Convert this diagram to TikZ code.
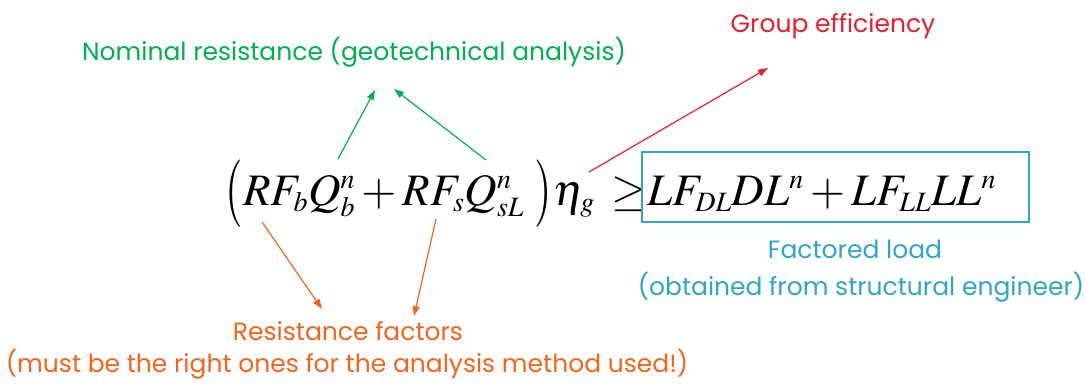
\documentclass[tikz,border=0pt]{standalone}
\usepackage{mathptmx}
\usepackage[no-math]{fontspec}
\setmainfont{Poppins}
\usetikzlibrary{arrows.meta}
\DeclareMathSizes{45}{45}{28}{20}
\definecolor{cgreen}{HTML}{00B050}
\definecolor{cred}{HTML}{E2202E}
\definecolor{corange}{HTML}{F0661E}
\definecolor{cblue}{HTML}{31A5C6}
\tikzset{
  lbl/.style={anchor=base, inner sep=0pt, font=\fontsize{25}{30}\selectfont},
  arr/.style={line width=1.2pt, -{Triangle[length=10pt,width=7pt]}},
  eq/.style={inner sep=0pt, anchor=base west, font=\fontsize{45}{54}\selectfont},
}
\newcommand{\bigparen}[1]{\raisebox{-5pt}{\scalebox{1}[1.5]{$#1$}}}
\begin{document}
\begin{tikzpicture}[x=1pt,y=-1pt]
\useasboundingbox (0,0) rectangle (1085,386);
% labels
\node[lbl, text=cgreen] (nom) at (354,60) {Nominal resistance (geotechnical analysis)};
\node[lbl, text=cred] (grp) at (833,32.5) {Group efficiency};
\node[lbl, text=corange] (res) at (348,340.7) {Resistance factors};
\node[lbl, text=corange] (must) at (347,372.7) {(must be the right ones for the analysis method used!)};
\node[lbl, text=cblue] (fac) at (855,258.3) {Factored load};
\node[lbl, text=cblue] (obt) at (861,295) {(obtained from structural engineer)};
% equation
\node[eq] (lpar) at (225,205) {\bigparen{(}};
\node[eq] (sum) at (243,205) {$RF_bQ_b^n + RF_sQ_{sL}^n$};
\node[eq] (rpar) at (534,205) {\bigparen{)}};
\node[eq] (eta) at (553,205) {$\eta_g$};
\node[eq] (geq) at (611,205) {$\geq$};
\node[draw=cblue, line width=2.2pt, minimum width=387pt, minimum height=70pt, anchor=north west, inner sep=0pt] (box) at (641,151) {};
\node[eq] (rhs) at (647,205) {$LF_{DL}DL^n + LF_{LL}LL^n$};
% arrow endpoints
\coordinate (g1s) at (338,159);
\coordinate (g1e) at (375,90);
\coordinate (g2s) at (486,160);
\coordinate (g2e) at (394,89);
\coordinate (rs) at (589,172);
\coordinate (re) at (768,68);
\coordinate (o1s) at (262,222);
\coordinate (o1e) at (322,309);
\coordinate (o2s) at (436,219);
\coordinate (o2e) at (414,316);
\draw[arr, cgreen] (g1s) -- (g1e);
\draw[arr, cgreen] (g2s) -- (g2e);
\draw[arr, cred] (rs) -- (re);
\draw[arr, corange] (o1s) -- (o1e);
\draw[arr, corange] (o2s) -- (o2e);
\end{tikzpicture}
\end{document}
